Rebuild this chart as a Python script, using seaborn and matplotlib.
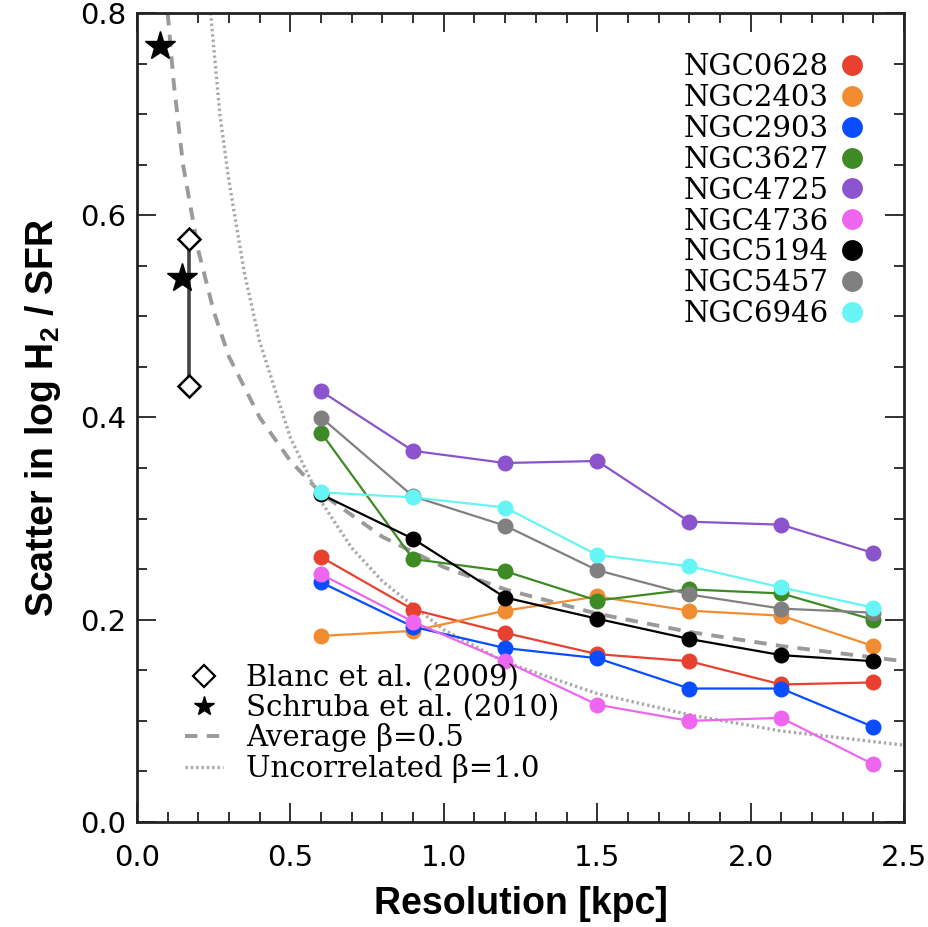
import numpy as np
import pandas as pd
import matplotlib
matplotlib.use("Agg")
import matplotlib.pyplot as plt
from matplotlib.lines import Line2D
from matplotlib.ticker import MultipleLocator, FormatStrFormatter
import seaborn as sns

# resolution steps (kpc)
resolution = [0.6, 0.9, 1.2, 1.5, 1.8, 2.1, 2.4]

galaxies = ["NGC0628", "NGC2403", "NGC2903", "NGC3627", "NGC4725",
            "NGC4736", "NGC5194", "NGC5457", "NGC6946"]

scatter_ngc0628 = [0.262, 0.210, 0.187, 0.166, 0.159, 0.136, 0.138]
scatter_ngc2403 = [0.184, 0.189, 0.209, 0.223, 0.209, 0.204, 0.174]
scatter_ngc2903 = [0.237, 0.193, 0.172, 0.162, 0.132, 0.132, 0.094]
scatter_ngc3627 = [0.385, 0.260, 0.248, 0.219, 0.230, 0.226, 0.200]
scatter_ngc4725 = [0.426, 0.367, 0.355, 0.357, 0.297, 0.294, 0.266]
scatter_ngc4736 = [0.245, 0.198, 0.159, 0.116, 0.100, 0.103, 0.057]
scatter_ngc5194 = [0.324, 0.280, 0.222, 0.201, 0.181, 0.165, 0.159]
scatter_ngc5457 = [0.400, 0.322, 0.293, 0.249, 0.225, 0.211, 0.207]
scatter_ngc6946 = [0.326, 0.321, 0.311, 0.264, 0.253, 0.232, 0.212]

galaxy_colors = ["#e8412f", "#f28c30", "#0a4cff", "#3e8a25", "#8b54cc",
                 "#ee66f0", "#000000", "#808080", "#66f4f4"]

# literature points
schruba_x = [0.075, 0.146]
schruba_y = [0.767, 0.538]
blanc_x = [0.170, 0.170]
blanc_y = [0.577, 0.431]

# model curves
avg_x = [0.10, 0.12, 0.15, 0.20, 0.25, 0.30, 0.40, 0.50, 0.60, 0.80,
         1.00, 1.20, 1.50, 1.80, 2.10, 2.50]
avg_y = [0.800, 0.730, 0.650, 0.565, 0.505, 0.460, 0.400, 0.357, 0.325, 0.282,
         0.252, 0.230, 0.206, 0.188, 0.174, 0.159]
unc_x = [0.24, 0.27, 0.30, 0.35, 0.40, 0.50, 0.60, 0.70, 0.80, 1.00,
         1.20, 1.50, 1.80, 2.10, 2.50]
unc_y = [0.800, 0.700, 0.633, 0.543, 0.475, 0.380, 0.317, 0.271, 0.238, 0.190,
         0.158, 0.127, 0.106, 0.090, 0.076]

ref_labels = ["Blanc et al. (2009)", "Schruba et al. (2010)",
              "Average β=0.5", "Uncorrelated β=1.0"]


def main():
    series = [scatter_ngc0628, scatter_ngc2403, scatter_ngc2903, scatter_ngc3627,
              scatter_ngc4725, scatter_ngc4736, scatter_ngc5194, scatter_ngc5457,
              scatter_ngc6946]
    df = pd.DataFrame({
        "galaxy": np.repeat(galaxies, len(resolution)),
        "res": resolution * len(galaxies),
        "scatter": np.concatenate(series),
    })
    palette = dict(zip(galaxies, galaxy_colors))

    sns.set_style("ticks")
    plt.rcParams["font.family"] = ["Liberation Sans", "DejaVu Sans"]
    plt.rcParams["mathtext.fontset"] = "custom"
    plt.rcParams["mathtext.rm"] = "Liberation Sans"
    plt.rcParams["mathtext.bf"] = "Liberation Sans:bold"
    plt.rcParams["text.color"] = "black"
    plt.rcParams["axes.labelcolor"] = "black"
    plt.rcParams["xtick.color"] = "black"
    plt.rcParams["ytick.color"] = "black"

    fig = plt.figure(figsize=(9.29, 9.27), dpi=100)
    ax = fig.add_axes([137 / 929, 1 - 822 / 927, 767 / 929, 809 / 927])

    avg_style = dict(color="#9a9a9a", linewidth=2.8, linestyle=(0, (3.2, 2.4)))
    unc_style = dict(color="#a8a8a8", linewidth=2.4, linestyle=(0, (0.7, 0.9)))

    # model curves
    sns.lineplot(x=avg_x, y=avg_y, ax=ax, sort=False, **avg_style)
    sns.lineplot(x=unc_x, y=unc_y, ax=ax, sort=False, **unc_style)

    # galaxies
    sns.lineplot(data=df, x="res", y="scatter", hue="galaxy", hue_order=galaxies,
                 palette=palette, marker="o", markersize=11.5, markeredgewidth=0,
                 linewidth=1.6, legend=False, ax=ax)

    # literature
    ax.plot(blanc_x, blanc_y, color="#444444", linewidth=2.6, zorder=4)
    ax.plot(blanc_x, blanc_y, linestyle="none", marker="D", markersize=11,
            markerfacecolor="white", markeredgecolor="black", markeredgewidth=1.8,
            zorder=5)
    ax.plot(schruba_x, schruba_y, linestyle="none", marker="*", markersize=22,
            color="black", zorder=6)

    ax.set_xlim(0, 2.5)
    ax.set_ylim(0, 0.8)
    ax.xaxis.set_major_locator(MultipleLocator(0.5))
    ax.xaxis.set_minor_locator(MultipleLocator(0.1))
    ax.yaxis.set_major_locator(MultipleLocator(0.2))
    ax.yaxis.set_minor_locator(MultipleLocator(0.05))
    ax.xaxis.set_major_formatter(FormatStrFormatter("%.1f"))
    ax.yaxis.set_major_formatter(FormatStrFormatter("%.1f"))
    ax.tick_params(which="both", direction="in", top=True, right=True,
                   color="#222222", width=1.3)
    ax.tick_params(which="major", length=14, labelsize=21)
    ax.tick_params(which="minor", length=7)
    ax.tick_params(axis="x", which="major", pad=16)
    ax.tick_params(axis="y", which="major", pad=8)
    for lab in ax.get_xticklabels() + ax.get_yticklabels():
        lab.set_family("DejaVu Sans")
    for sp in ax.spines.values():
        sp.set_linewidth(2.0)
        sp.set_color("#222222")

    ax.set_xlabel("Resolution [kpc]", fontsize=27, fontweight="bold", labelpad=10)
    ax.set_ylabel(r"Scatter in log H$_\mathbf{2}$ / SFR", fontsize=27,
                  fontweight="bold", labelpad=12)

    # legend: galaxies (top right)
    gal_handles = [Line2D([], [], linestyle="none", marker="o", markersize=15,
                          markeredgewidth=0, color=c) for c in galaxy_colors]
    leg1 = ax.legend(gal_handles, galaxies, loc="upper right",
                     bbox_to_anchor=(0.961, 0.965), frameon=False,
                     markerfirst=False, handlelength=0.7, handletextpad=0.45,
                     labelspacing=0.1, borderaxespad=0,
                     prop={"family": "DejaVu Serif", "size": 21})
    ax.add_artist(leg1)

    # legend: references and models (bottom left)
    ref_handles = [
        Line2D([], [], linestyle="none", marker="D", markersize=11,
               markerfacecolor="white", markeredgecolor="black", markeredgewidth=1.6),
        Line2D([], [], linestyle="none", marker="*", markersize=15, color="black"),
        Line2D([], [], **avg_style),
        Line2D([], [], **unc_style),
    ]
    ax.legend(ref_handles, ref_labels, loc="lower left",
              bbox_to_anchor=(0.047, 0.034), frameon=False,
              handlelength=1.3, handletextpad=0.8, labelspacing=0.05,
              borderaxespad=0, prop={"family": "DejaVu Serif", "size": 21})

    fig.savefig("out.png", dpi=100)
    plt.close("all")


if __name__ == "__main__":
    main()
